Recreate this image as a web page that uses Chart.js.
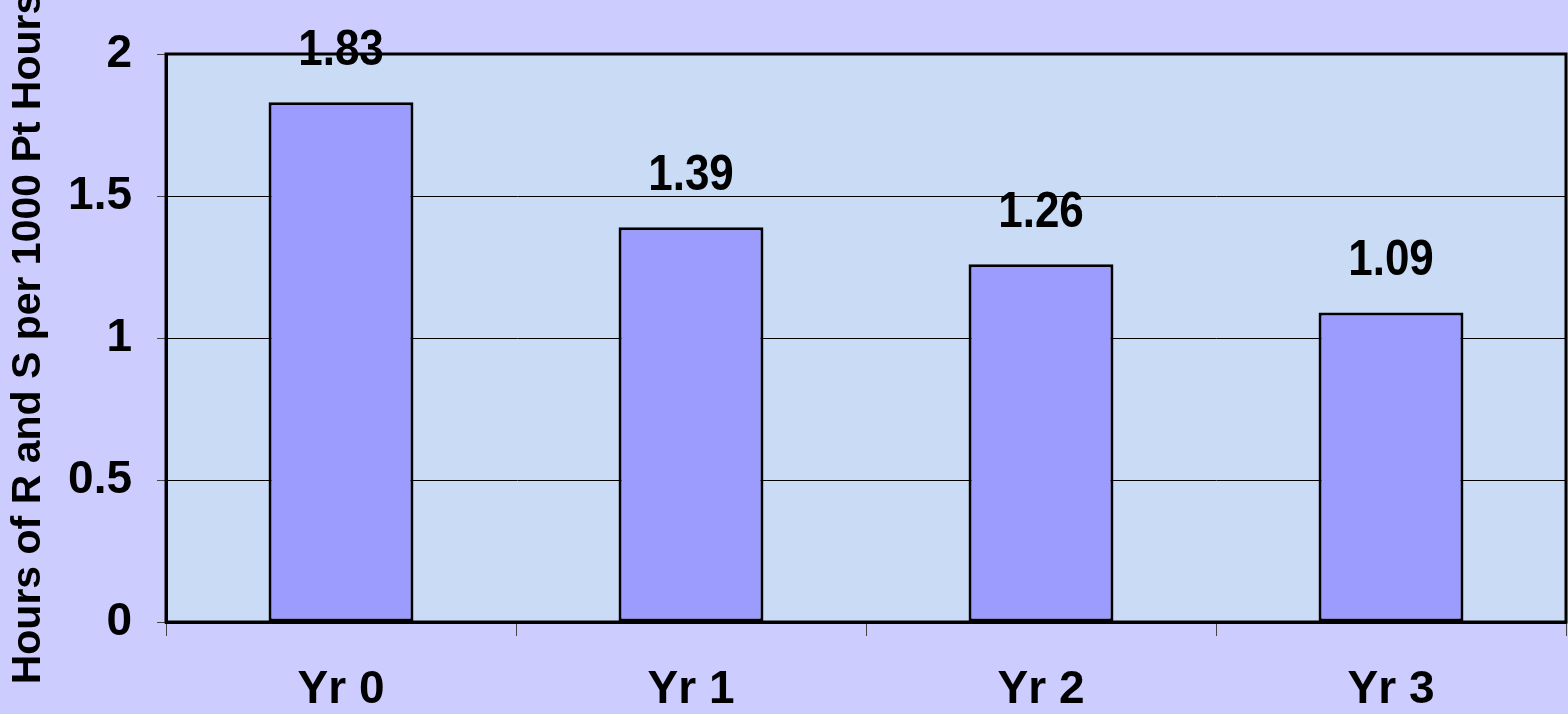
<!DOCTYPE html>
<html>
<head>
<meta charset="utf-8">
<script src="https://cdn.jsdelivr.net/npm/chart.js@4"></script>
<style>
  html, body { margin: 0; padding: 0; background: #CCCCFF; }
  #wrap { width: 1568px; height: 714px; }
</style>
</head>
<body>
<div id="wrap"><canvas id="rsChart"></canvas></div>
<script>
const categories = ['Yr 0', 'Yr 1', 'Yr 2', 'Yr 3'];
const hoursPer1000 = [1.83, 1.39, 1.26, 1.09];
const yTitle = 'Hours of R and S per 1000 Pt Hours';

const fontFamily = '"Liberation Sans", Arial, sans-serif';

// plot area fill + top/right frame (left and bottom come from the axis borders)
const plotFrame = {
    id: 'plotFrame',
    beforeDraw(chart) {
        const { ctx, chartArea: a } = chart;
        ctx.save();
        ctx.fillStyle = '#CADBF5';
        ctx.fillRect(a.left, a.top, a.right - a.left, a.bottom - a.top);
        ctx.restore();
    },
    afterDraw(chart) {
        const { ctx, chartArea: a } = chart;
        ctx.save();
        ctx.strokeStyle = '#000';
        ctx.lineWidth = 3;
        ctx.strokeRect(a.left, a.top, a.right - a.left, a.bottom - a.top);
        ctx.restore();
    }
};

// value above each bar, drawn a little taller than wide like the original
const valueLabels = {
    id: 'valueLabels',
    afterDatasetsDraw(chart) {
        const { ctx } = chart;
        const meta = chart.getDatasetMeta(0);
        ctx.save();
        ctx.font = `bold 44px ${fontFamily}`;
        ctx.fillStyle = '#000';
        ctx.textAlign = 'center';
        ctx.textBaseline = 'alphabetic';
        meta.data.forEach((bar, i) => {
            ctx.save();
            ctx.translate(bar.x, bar.y - 37);
            ctx.scale(1, 1.12);
            ctx.fillText(hoursPer1000[i].toFixed(2), 0, 0);
            ctx.restore();
        });
        ctx.restore();
    }
};

new Chart('rsChart', {
    type: 'bar',
    data: {
        labels: categories,
        datasets: [{
            data: hoursPer1000,
            backgroundColor: '#9C9CFF',
            borderColor: '#000',
            borderWidth: 3,
            borderSkipped: false,
            categoryPercentage: 1,
            barPercentage: 0.414
        }]
    },
    options: {
        responsive: true,
        maintainAspectRatio: false,
        animation: false,
        layout: { padding: { top: 54, right: 2, left: 0, bottom: 0 } },
        plugins: {
            legend: { display: false },
            tooltip: { enabled: false }
        },
        scales: {
            x: {
                grid: {
                    offset: true,
                    drawOnChartArea: false,
                    tickLength: 14,
                    tickColor: '#444',
                    lineWidth: 1
                },
                border: { color: '#000', width: 3 },
                ticks: {
                    color: '#000',
                    padding: 27,
                    font: { family: fontFamily, size: 46, weight: 'bold' }
                },
                afterFit(scale) { scale.height = 92; }
            },
            y: {
                min: 0,
                max: 2,
                grid: {
                    color: '#000',
                    lineWidth: 1,
                    tickLength: 9,
                    tickColor: '#444'
                },
                border: { color: '#000', width: 3 },
                ticks: {
                    stepSize: 0.5,
                    color: '#000',
                    padding: 25,
                    font: { family: fontFamily, size: 46, weight: 'bold' },
                    callback: (v) => String(v)
                },
                title: {
                    display: true,
                    text: yTitle,
                    color: '#000',
                    padding: { top: 4, bottom: 0 },
                    font: { family: fontFamily, size: 41, weight: 'bold' }
                },
                afterFit(scale) { scale.width = 166; }
            }
        }
    },
    plugins: [plotFrame, valueLabels]
});
</script>
</body>
</html>
